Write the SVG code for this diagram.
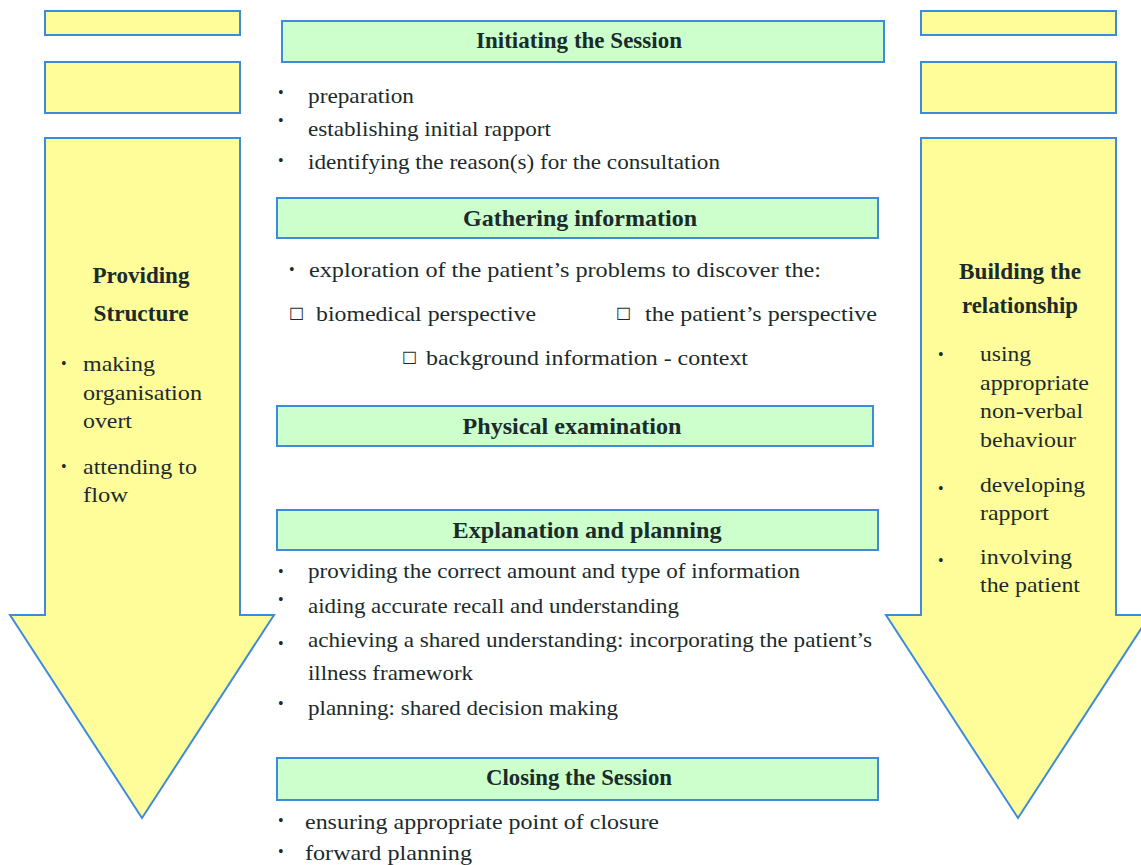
<svg xmlns="http://www.w3.org/2000/svg" width="1141" height="865" viewBox="0 0 1141 865">
<style>
.y{fill:#FFFD99;stroke:#3D8BDA;stroke-width:2}
.g{fill:#CCFFCC;stroke:#3D8BDA;stroke-width:2}
text{font-family:"Liberation Serif","Times New Roman",Tinos,serif;fill:#1B2B2B;font-size:22px}
.h{font-weight:bold;text-anchor:middle;font-size:23px}
.b{font-size:16px}
.sq{font-family:"DejaVu Sans",sans-serif;font-size:17px}
</style>
<rect width="1141" height="865" fill="#fff"/>
<g id="left-column">
<rect class="y" x="45" y="11" width="195" height="24"/>
<rect class="y" x="45" y="62" width="195" height="51"/>
<polygon class="y" points="45,138 240,138 240,615 274,615 142,818 10,615 45,615"/>
<text class="h" x="141" y="283" textLength="97" lengthAdjust="spacingAndGlyphs">Providing</text>
<text class="h" x="141" y="321" textLength="95" lengthAdjust="spacingAndGlyphs">Structure</text>
<text class="b" x="61" y="369">•</text>
<text x="83" y="371" textLength="72" lengthAdjust="spacingAndGlyphs">making</text>
<text x="83" y="400" textLength="119" lengthAdjust="spacingAndGlyphs">organisation</text>
<text x="83" y="428" textLength="49" lengthAdjust="spacingAndGlyphs">overt</text>
<text class="b" x="61" y="472">•</text>
<text x="83" y="474" textLength="114" lengthAdjust="spacingAndGlyphs">attending to</text>
<text x="83" y="502" textLength="45" lengthAdjust="spacingAndGlyphs">flow</text>
</g>
<g id="right-column">
<rect class="y" x="921" y="11" width="195" height="24"/>
<rect class="y" x="921" y="62" width="195" height="51"/>
<polygon class="y" points="921,138 1116,138 1116,615 1150,615 1018,818 886,615 921,615"/>
<text class="h" x="1020" y="279" textLength="122" lengthAdjust="spacingAndGlyphs">Building the</text>
<text class="h" x="1020" y="313" textLength="116" lengthAdjust="spacingAndGlyphs">relationship</text>
<text class="b" x="938" y="360">•</text>
<text x="980" y="361" textLength="51" lengthAdjust="spacingAndGlyphs">using</text>
<text x="980" y="390" textLength="109" lengthAdjust="spacingAndGlyphs">appropriate</text>
<text x="980" y="418" textLength="103" lengthAdjust="spacingAndGlyphs">non-verbal</text>
<text x="980" y="447" textLength="96" lengthAdjust="spacingAndGlyphs">behaviour</text>
<text class="b" x="938" y="494">•</text>
<text x="980" y="492" textLength="105" lengthAdjust="spacingAndGlyphs">developing</text>
<text x="980" y="520" textLength="69" lengthAdjust="spacingAndGlyphs">rapport</text>
<text class="b" x="938" y="566">•</text>
<text x="980" y="564" textLength="92" lengthAdjust="spacingAndGlyphs">involving</text>
<text x="980" y="592" textLength="100" lengthAdjust="spacingAndGlyphs">the patient</text>
</g>
<g id="initiating">
<rect class="g" x="282" y="21" width="602" height="41"/>
<text class="h" x="579" y="48" textLength="206" lengthAdjust="spacingAndGlyphs">Initiating the Session</text>
<text class="b" x="278" y="98">•</text>
<text x="308" y="103" textLength="106" lengthAdjust="spacingAndGlyphs">preparation</text>
<text class="b" x="278" y="126">•</text>
<text x="308" y="136" textLength="243" lengthAdjust="spacingAndGlyphs">establishing initial rapport</text>
<text class="b" x="278" y="166">•</text>
<text x="308" y="169" textLength="412" lengthAdjust="spacingAndGlyphs">identifying the reason(s) for the consultation</text>
</g>
<g id="gathering">
<rect class="g" x="277" y="198" width="601" height="40"/>
<text class="h" x="580" y="226" textLength="234" lengthAdjust="spacingAndGlyphs">Gathering information</text>
<text class="b" x="289" y="275">•</text>
<text x="309" y="277" textLength="512" lengthAdjust="spacingAndGlyphs">exploration of the patient’s problems to discover the:</text>
<text class="sq" x="289" y="320">☐</text>
<text x="316" y="321" textLength="220" lengthAdjust="spacingAndGlyphs">biomedical perspective</text>
<text class="sq" x="616" y="320">☐</text>
<text x="645" y="321" textLength="232" lengthAdjust="spacingAndGlyphs">the patient’s perspective</text>
<text class="sq" x="402" y="364">☐</text>
<text x="426" y="365" textLength="322" lengthAdjust="spacingAndGlyphs">background information - context</text>
</g>
<g id="physical">
<rect class="g" x="277" y="406" width="596" height="40"/>
<text class="h" x="572" y="434" textLength="219" lengthAdjust="spacingAndGlyphs">Physical examination</text>
</g>
<g id="explanation">
<rect class="g" x="277" y="510" width="601" height="40"/>
<text class="h" x="587" y="538" textLength="269" lengthAdjust="spacingAndGlyphs">Explanation and planning</text>
<text class="b" x="278" y="577">•</text>
<text x="308" y="578" textLength="492" lengthAdjust="spacingAndGlyphs">providing the correct amount and type of information</text>
<text class="b" x="278" y="605">•</text>
<text x="308" y="613" textLength="371" lengthAdjust="spacingAndGlyphs">aiding accurate recall and understanding</text>
<text class="b" x="278" y="649">•</text>
<text x="308" y="647" textLength="564" lengthAdjust="spacingAndGlyphs">achieving a shared understanding: incorporating the patient’s</text>
<text x="308" y="680" textLength="165" lengthAdjust="spacingAndGlyphs">illness framework</text>
<text class="b" x="278" y="709">•</text>
<text x="308" y="715" textLength="310" lengthAdjust="spacingAndGlyphs">planning: shared decision making</text>
</g>
<g id="closing">
<rect class="g" x="277" y="758" width="601" height="42"/>
<text class="h" x="579" y="785" textLength="186" lengthAdjust="spacingAndGlyphs">Closing the Session</text>
<text class="b" x="278" y="826">•</text>
<text x="305" y="829" textLength="354" lengthAdjust="spacingAndGlyphs">ensuring appropriate point of closure</text>
<text class="b" x="278" y="857">•</text>
<text x="305" y="860" textLength="167" lengthAdjust="spacingAndGlyphs">forward planning</text>
</g>
<g id="connectors"></g>
</svg>
